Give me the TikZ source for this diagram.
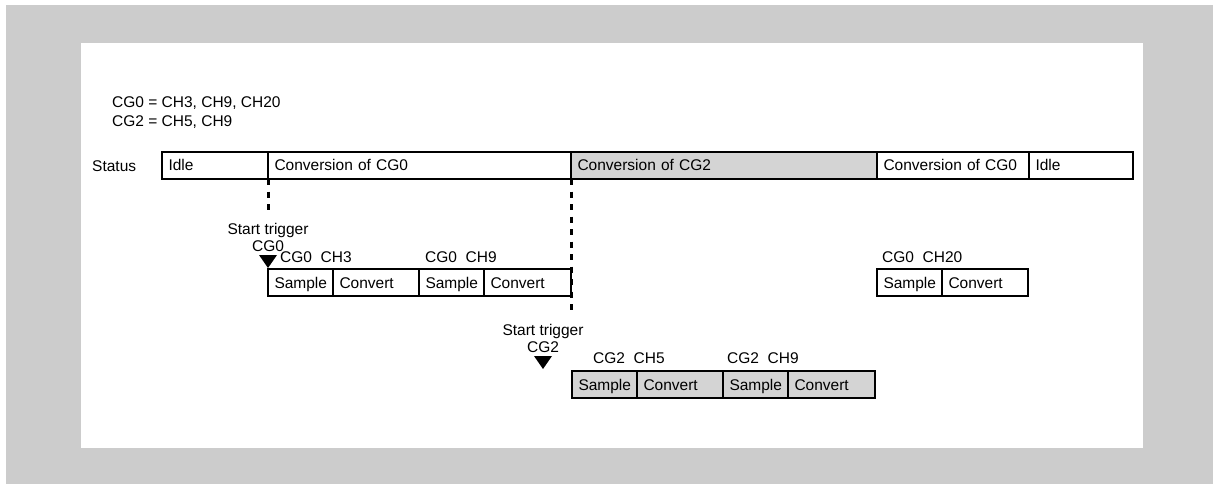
\documentclass[tikz,border=0pt]{standalone}
\usepackage{fontspec}
\setmainfont{Liberation Sans}
\usepackage{xcolor}
\usepackage{tikz}
\usetikzlibrary{calc,positioning}
\definecolor{frameGray}{RGB}{204,204,204}
\definecolor{cgGray}{RGB}{212,212,212}

\begin{document}
\begin{tikzpicture}[x=1pt,y=-1pt,
    font=\fontsize{15.5}{17}\selectfont,
    cell/.style={draw, line width=1.2pt, anchor=north west, outer sep=0pt,
        inner xsep=6.5pt, inner ysep=0pt, minimum height=27pt,
        text width=#1, align=left, text height=11pt, text depth=0pt},
    trigline/.style={line width=3pt, dash pattern=on 6pt off 6.5pt},
    chlabel/.style={anchor=west, inner sep=0pt}]
    % frame
    \useasboundingbox (0,0) rectangle (1213,484);
    \fill[frameGray] (6,5) rectangle (1213,484);
    \fill[white] (81,43) rectangle (1143,448);

    % channel groups
    \node[anchor=west, align=left, inner sep=0pt] (groups) at (112,112.5)
        {CG0 = CH3, CH9, CH20\\[2pt]CG2 = CH5, CH9};

    % status row
    \node[chlabel] (status) at (92,166) {Status};
    \node[cell=93pt] (idleA) at (162,152) {Idle};
    \node[cell=290pt] (convA) at (idleA.north east) {Conversion of CG0};
    \node[cell=293pt, fill=cgGray] (convB) at (convA.north east) {Conversion of CG2};
    \node[cell=139pt] (convC) at (convB.north east) {Conversion of CG0};
    \node[cell=91pt] (idleB) at (convC.north east) {Idle};

    % trigger lines
    \coordinate (trigA) at (268,212);
    \coordinate (trigB) at (571,312);
    \draw[trigline] (convA.south west) -- (trigA);
    \draw[trigline] (convB.south west) -- (trigB);

    % start trigger CG0
    \node[align=center, inner sep=0pt] (startA) at (268,237.5) {Start trigger\\CG0};
    \fill (268,268) -- ++(-9,-13) -- ++(18,0) -- cycle;

    % CG0 conversions
    \node[chlabel] (lblA3) at (280,257) {CG0\ \ CH3};
    \node[chlabel] (lblA9) at (425,257) {CG0\ \ CH9};
    \node[cell=52pt] (smpA3) at (268,269) {Sample};
    \node[cell=73pt] (cnvA3) at (smpA3.north east) {Convert};
    \node[cell=52pt] (smpA9) at (cnvA3.north east) {Sample};
    \node[cell=74pt] (cnvA9) at (smpA9.north east) {Convert};

    \node[chlabel] (lblA20) at (882,257) {CG0\ \ CH20};
    \node[cell=52pt] (smpA20) at (877,269) {Sample};
    \node[cell=73pt] (cnvA20) at (smpA20.north east) {Convert};

    % start trigger CG2
    \node[align=center, inner sep=0pt] (startB) at (543,338.5) {Start trigger\\CG2};
    \fill (543,369) -- ++(-9,-13) -- ++(18,0) -- cycle;

    % CG2 conversions
    \node[chlabel] (lblB5) at (593,358) {CG2\ \ CH5};
    \node[chlabel] (lblB9) at (727,358) {CG2\ \ CH9};
    \node[cell=52pt, fill=cgGray] (smpB5) at (572,371) {Sample};
    \node[cell=73pt, fill=cgGray] (cnvB5) at (smpB5.north east) {Convert};
    \node[cell=52pt, fill=cgGray] (smpB9) at (cnvB5.north east) {Sample};
    \node[cell=74pt, fill=cgGray] (cnvB9) at (smpB9.north east) {Convert};
\end{tikzpicture}
\end{document}
